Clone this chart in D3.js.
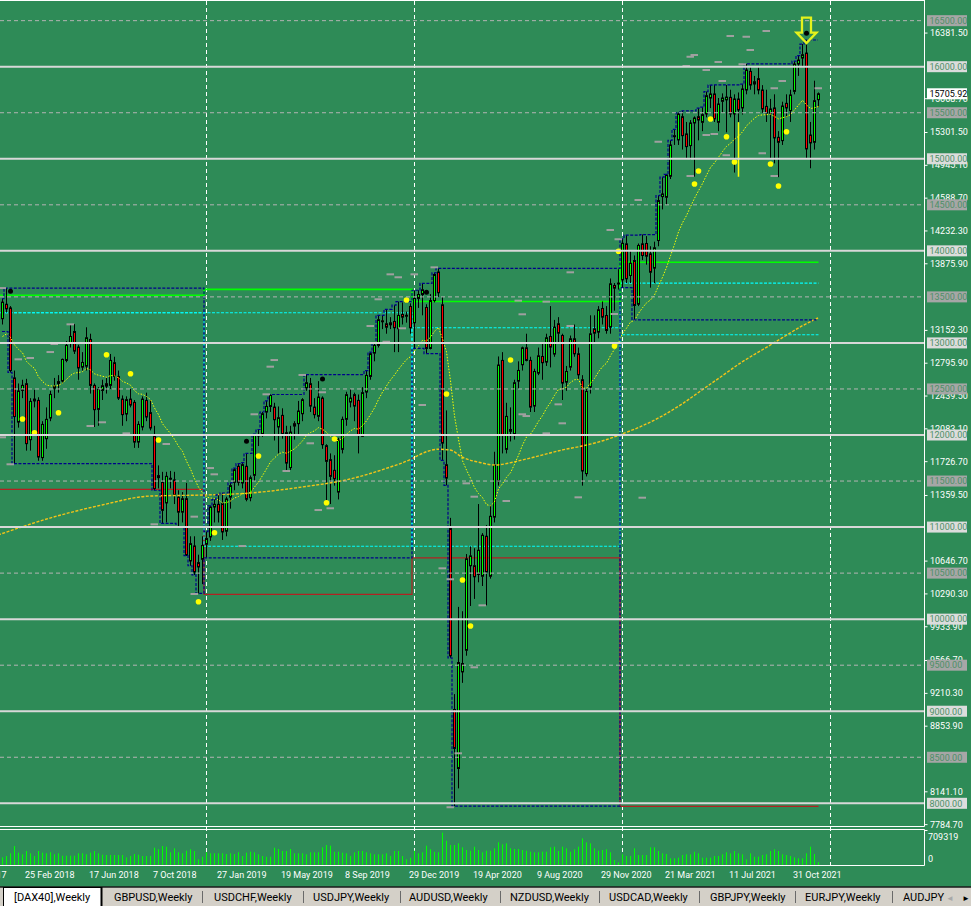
<!DOCTYPE html>
<html><head><meta charset="utf-8">
<script src="https://cdn.jsdelivr.net/npm/d3@7"></script>
<style>
html,body{margin:0;padding:0;background:#2E8B57;overflow:hidden}
svg{display:block}
text{font-family:Roboto,"Liberation Sans",sans-serif}
</style></head><body>
<svg id="c" width="971" height="906"></svg>
<script>
// ---------------- DATA ----------------
const firstBarDate = "2018-01-14";           // weekly bars (Sunday start)
// [open, high, low, close]
const ohlc = [
[13263,13480,13200,13443],[13420,13596,13330,13370],[13380,13400,12680,12700],[12620,12700,11690,12200],[12140,12560,12080,12478],
[12484,12600,12400,12539],[12557,12610,11830,11906],[11949,12400,11830,12365],[12370,12490,12300,12390],[12376,12410,11720,11761],
[11754,12150,11720,12115],[11960,12300,11850,12170],[12184,12480,12150,12441],[12510,12620,12400,12530],[12560,12650,12460,12580],
[12586,12830,12560,12821],[12810,13020,12790,12973],[12997,13200,12950,13070],[13124,13204,12880,12911],[12955,12980,12600,12728],
[12737,12900,12700,12788],[12748,13170,12700,13056],[13038,13100,12450,12539],[12539,12560,12087,12275],[12278,12520,12100,12495],
[12484,12600,12380,12535],[12557,12620,12450,12531],[12539,12880,12500,12810],[12785,12850,12590,12636],[12636,12700,12380,12401],
[12390,12430,12100,12221],[12228,12420,12150,12384],[12390,12500,12300,12325],[12354,12380,11860,11923],[11923,12150,11860,12115],
[12087,12420,12050,12390],[12376,12460,12150,12195],[12243,12380,12050,12076],[11985,12100,11400,11418],[11559,11670,11420,11537],
[11486,11600,11040,11182],[11262,11600,11050,11551],[11520,11610,11420,11530],[11512,11600,11250,11350],[11325,11400,11000,11162],
[11162,11380,11050,11308],[11308,11480,10690,10693],[10632,10900,10580,10820],[10795,10900,10480,10513],[10614,10700,10280,10567],
[10650,10900,10380,10800],[10813,10950,10665,10875],[10893,11230,10850,11218],[11218,11300,11050,11247],[11247,11350,11050,11163],
[11255,11370,10860,10947],[10955,11330,10900,11305],[11325,11480,11200,11450],[11486,11640,11400,11623],[11660,11690,11450,11486],
[11479,11700,11420,11678],[11660,11800,11280,11302],[11319,11560,11280,11536],[11562,12010,11500,11996],[11990,12060,11880,12000],
[12014,12250,11980,12231],[12249,12370,12180,12310],[12310,12440,12250,12430],[12303,12350,11940,12166],[12087,12310,11800,12188],
[12213,12290,11960,12014],[12025,12100,11620,11695],[11646,12100,11620,12032],[12123,12150,11950,12097],[12123,12370,12000,12260],
[12231,12400,12150,12383],[12514,12656,12480,12568],[12557,12620,12250,12314],[12303,12400,12180,12221],[12203,12585,12150,12412],
[12401,12420,11850,11895],[11884,11900,11290,11714],[11732,11800,11250,11551],[11616,11780,11450,11525],[11380,11970,11300,11947],
[11844,12200,11800,12170],[12170,12470,12100,12438],[12358,12500,12300,12401],[12438,12460,12150,12314],[12376,12440,11800,11996],
[11986,12520,11980,12460],[12466,12700,12400,12647],[12636,12900,12600,12883],[12889,13000,12800,12973],[12973,13300,12950,13252],
[13240,13300,13150,13230],[13208,13365,13100,13171],[13197,13280,13150,13219],[13233,13410,12900,13165],[13154,13448,12900,13298],
[13309,13440,13200,13280],[13290,13340,13220,13300],[13396,13430,13100,13165],[13219,13572,12940,13483],[13483,13572,13380,13526],
[13526,13647,13300,13577],[13385,13420,12883,12940],[12940,13530,12930,13460],[13460,13760,13440,13743],[13770,13810,13500,13545],
[13414,13500,11724,11912],[11677,12267,11453,11532],[10984,11100,9580,9601],[9019,9186,7970,8596],[8378,10133,8162,9529],
[9427,10086,9308,9518],[9662,10707,9603,10655],[10580,10790,10143,10687],[10580,10770,10220,10460],[10485,11250,10400,10748],
[10466,10935,10360,10911],[10900,11022,10150,10513],[10466,11240,10440,11117],[11108,11818,11050,11670],[11497,12853,11450,12760],
[12810,12900,11800,11996],[11844,12350,11800,12202],[12040,12300,11930,12060],[12007,12600,11950,12568],[12585,12800,12500,12701],
[12763,12960,12700,12947],[12947,13100,12800,12810],[12810,12850,12250,12303],[12314,12720,12250,12690],[12672,12950,12650,12860],
[12853,12990,12600,12785],[12792,13100,12750,13056],[13070,13400,12734,12955],[12879,13250,12850,13171],[13208,13280,13000,13106],
[13081,13100,12380,12564],[12574,12750,12480,12690],[12737,13080,12700,13045],[13045,13200,12850,12882],[12882,12950,12600,12654],
[12600,12650,11450,11609],[11580,12500,11550,12473],[12521,13300,12450,13099],[13153,13300,13000,13106],[13117,13400,13050,13360],
[13374,13450,13200,13280],[13298,13400,13100,13135],[13171,13700,13100,13642],[13624,13650,13350,13595],[13640,13800,13580,13650],
[13685,14131,13600,14082],[14076,14170,13650,13696],[13732,14000,13650,13866],[13895,13950,13250,13407],[13420,14080,13400,14059],
[14076,14177,13900,13949],[14080,14160,13850,13942],[13967,14050,13600,13768],[13812,14100,13650,14033],[14112,14600,14050,14546],
[14589,14800,14450,14618],[14582,14830,14500,14824],[14810,15200,14780,15150],[15240,15320,15150,15251],[15205,15500,15150,15487],
[15457,15520,15100,15251],[15270,15400,15000,15132],[15143,15420,14990,15389],[15389,15460,14806,15443],[15457,15550,15200,15421],
[15396,15560,15300,15479],[15487,15730,15450,15685],[15660,15800,15550,15704],[15704,15802,15400,15433],[15396,15660,15300,15595],
[15624,15710,15500,15660],[15640,15801,15287,15670],[15667,15750,15450,15487],[15487,15700,14850,15649],[15649,15720,15400,15530],
[15552,15810,15480,15758],[15747,16030,15700,15964],[15949,16000,15750,15801],[15812,15900,15700,15837],[15870,16000,15700,15747],
[15747,15800,15500,15541],[15569,15750,15400,15497],[15493,15650,15000,15541],[15552,15700,14950,15226],[15233,15300,14800,15179],
[15197,15620,15150,15573],[15602,15700,15450,15552],[15523,15750,15400,15693],[15732,16060,15700,16029],[16029,16120,15900,16072],
[16094,16246,16000,16130],[16148,16290,15000,15107],[15258,15400,14897,15172],[15179,15848,15100,15631],[15642,15720,15560,15705.92]
];
// weekly volume, thousands
const volumesK = [
160,188,244,396,257,223,292,244,188,292, 257,244,265,223,244,194,194,194,194,244,
244,223,257,292,244,215,209,209,209,209, 209,160,188,229,215,188,188,188,361,328,
396,382,265,348,265,244,298,328,292,119, 173,265,244,244,244,244,229,244,229,265,
188,257,277,265,223,188,173,173,361,334, 292,292,334,244,244,244,223,265,265,265,
369,417,403,277,277,257,244,188,265,292, 292,265,244,223,223,223,244,188,292,292,
188,119,152,298,244,265,403,328,277,265, 674,507,417,417,453,369,313,298,382,313,
265,298,298,348,473,431,452,348,334,334, 313,298,278,265,265,278,278,369,383,292,
383,348,278,327,383,556,473,452,348,298, 313,327,265,104,56,223,188,188,348,209,
209,209,369,369,292,243,229,139,139,153, 209,223,223,278,243,153,153,153,188,188,
223,265,243,292,243,223,118,243,174,174, 209,223,292,327,292,223,209,188,160,139,
139,243,383,229,60
];
const volumeMaxLabel = 709319;
const currentPrice = 15705.92;
const fastEmaPeriod = 20, fastEmaSeed = 13030;
// slow moving average: [bar, price]
const slowMa = [[-1,10914],[12,11098],[25,11240],[37,11337],[50,11348],[62,11370],[75,11435],[87,11522],[100,11696],[109,11845],[112,11837],[115,11761],[120,11696],[123,11674],[130,11728],[135,11782],[140,11837],[145,11880],[150,11935],[155,12011],[160,12098],[165,12206],[170,12337],[175,12489],[180,12641],[185,12793],[190,12923],[195,13054],[200,13184],[204,13271]];
const ytdSeed = {high:13124, low:13124};
// yearly reference levels
const levelYears = [2018, 2019, 2020, 2021];
const prevYearHigh = [13518, 13582, 13450, 13877];
const prevYearLow = [11410, 10270, 10665, 7967];
const prevYearOpen = [13327, 13327, 10792, 13088];
const prevYearClose = [13327, 10792, 13165, 13649];
// markers [bar, price]
const yellowDots = [[5,12174],[8,12025],[14,12242],[26,12872],[32,12666],[39,11946],[49,10189],[53,10939],[64,11772],[81,11265],[83,11956],[101,13466],[111,12445],[115,10425],[117,9925],[127,12814],[153,12966],[154,13995],[173,14726],[174,14867],[177,15432],[181,15240],[183,14965],[192,14943],[194,14704],[196,15294]];
const blackDots = [[2,13561],[61,11931],[80,12608],[106,13550],[201,16363]];
const grayDashes = [[17,13202],[13,12988],[12,12901],[4,12822],[7,12836],[22,12098],[25,12138],[31,12018],[41,11902],[2,11682],[0,13596],[0,11975],[52,11641],[63,12225],[53,11573],[48,11113],[38,11030],[48,10273],[60,10794],[97,13745],[99,13713],[94,13474],[92,13184],[96,13013],[100,13159],[68,12814],[67,12742],[75,12652],[66,12442],[80,12464],[77,11910],[71,11609],[79,11185],[82,11204],[103,13745],[108,13821],[142,13767],[129,13459],[136,13448],[142,13184],[153,13314],[130,13311],[105,12326],[139,12333],[140,12127],[130,12225],[131,12206],[136,12018],[116,11475],[118,11330],[126,11283],[144,11323],[160,11319],[110,10552],[112,10433],[120,10150],[118,9477],[114,8543],[112,7956],[164,15185],[159,14552],[152,14226],[154,14125],[172,14813],[178,15269],[182,16333],[186,16326],[191,16388],[187,16181],[172,16109],[173,16127],[179,16051],[171,16008],[176,15964],[185,16026],[180,15845],[195,15845],[193,15765],[204,15765],[181,15038],[190,15059],[193,14813],[176,15258]];
const signalLines = [[184,15396,14805]];
const arrowSignal = {bar:201, price:16257};
const priceTicks = [16381.5,15668.7,15301.5,14945.1,14588.7,14232.3,13875.9,13152.3,12795.9,12439.5,12083.1,11726.7,11359.5,10646.7,10290.3,9933.9,9566.7,9210.3,8853.9,8141.1,7784.7];
const roundLevels = [16500,16000,15500,15000,14500,14000,13500,13000,12500,12000,11500,11000,10500,10000,9500,9000,8500,8000];
const timeLabelBars = d3.range(-10, 205, 16);
const tabs = ["[DAX40],Weekly","GBPUSD,Weekly","USDCHF,Weekly","USDJPY,Weekly","AUDUSD,Weekly","NZDUSD,Weekly","USDCAD,Weekly","GBPJPY,Weekly","EURJPY,Weekly","AUDJPY"];
const tabTextX = [14,114,214,313,409,510,609,710,805,903];
const tabSepX = [202,303,400,500,599,699,795,892];

// ---------------- SCALES ----------------
const N = ohlc.length;
const t0 = Date.parse(firstBarDate + "T00:00:00Z");
const barDate = i => new Date(t0 + i*7*864e5);
const x = d3.scaleLinear().domain([0, N-1]).range([2, 2 + 4*(N-1)]);
const y = d3.scaleLinear().domain([8000, 16000]).range([803.3, 66.7]);
const yv = d3.scaleLinear().domain([0, volumeMaxLabel/1000]).range([865, 831]);
const fmtDate = d3.utcFormat("%-d %b %Y");

const svg = d3.select("#c");
svg.append("rect").attr("width",971).attr("height",906).attr("fill","#2E8B57");
const defs = svg.append("defs");
defs.append("clipPath").attr("id","cm").append("rect").attr("x",0).attr("y",1).attr("width",924).attr("height",825.5);
defs.append("clipPath").attr("id","cv").append("rect").attr("x",0).attr("y",830).attr("width",924).attr("height",35);

// year separators
const seps = d3.range(-10, 215).filter(i => barDate(i).getUTCFullYear() !== barDate(i-1).getUTCFullYear());
svg.append("g").selectAll("line").data(seps).join("line")
  .attr("x1", i=>x(i)+0.5).attr("x2", i=>x(i)+0.5).attr("y1",1).attr("y2",865)
  .attr("stroke","#fff").attr("stroke-width",1).attr("stroke-dasharray","4,3");

const main = svg.append("g").attr("clip-path","url(#cm)");

// yearly reference level lines
const yearFirst = levelYears.map(Y => d3.range(-60, N).find(i => barDate(i).getUTCFullYear() === Y));
function yearPts(vals){
  const pts = [];
  vals.forEach((v,k)=>{
    const xs = x(yearFirst[k]) - 2;
    const xe = k < vals.length-1 ? x(yearFirst[k+1]) - 2 : x(N-1) + 0.5;
    pts.push([xs, y(v)], [xe, y(v)]);
  });
  return pts;
}
const lineXY = d3.line();
main.append("path").attr("d", lineXY(yearPts(prevYearLow))).attr("fill","none").attr("stroke","#B22222").attr("stroke-width",1.2);
main.append("path").attr("d", lineXY(yearPts(prevYearOpen))).attr("fill","none").attr("stroke","#00FFFF").attr("stroke-width",1.1).attr("stroke-dasharray","3,1.5");
main.append("path").attr("d", lineXY(yearPts(prevYearClose))).attr("fill","none").attr("stroke","#00FFFF").attr("stroke-width",1.1).attr("stroke-dasharray","3,1.5");
main.append("path").attr("d", lineXY(yearPts(prevYearHigh))).attr("fill","none").attr("stroke","#00FF00").attr("stroke-width",1.6);

// candles
const cg = main.append("g");
cg.selectAll("line").data(ohlc).join("line")
  .attr("x1",(d,i)=>x(i)+0.5).attr("x2",(d,i)=>x(i)+0.5)
  .attr("y1",d=>y(d[1])).attr("y2",d=>y(d[2])).attr("stroke","#000").attr("stroke-width",1);
cg.selectAll("rect").data(ohlc).join("rect")
  .attr("x",(d,i)=>x(i)-0.5).attr("width",2)
  .attr("y",d=>y(Math.max(d[0],d[3]))).attr("height",d=>Math.abs(y(d[0])-y(d[3])))
  .attr("fill",d=>d[3]>=d[0]?"#00FF00":"#FF0000").attr("stroke","#000").attr("stroke-width",1);

// signal lines
main.selectAll(".sig").data(signalLines).join("line")
  .attr("x1",d=>x(d[0])+0.5).attr("x2",d=>x(d[0])+0.5).attr("y1",d=>y(d[1])).attr("y2",d=>y(d[2]))
  .attr("stroke","#FFFF00").attr("stroke-width",1.5);

// slow MA
main.append("path").datum(slowMa)
  .attr("d", d3.line().curve(d3.curveMonotoneX).x(d=>x(d[0])).y(d=>y(d[1])))
  .attr("fill","none").attr("stroke","#F2C318").attr("stroke-width",1.4).attr("stroke-dasharray","3,1.5");

// fast EMA
const kf = 2/(fastEmaPeriod+1); let e = fastEmaSeed;
const fast = ohlc.map((d,i)=>{ e = e + kf*(d[3]-e); return [i,e]; });
main.append("path").datum(fast)
  .attr("d", d3.line().x(d=>x(d[0])+0.5).y(d=>y(d[1])))
  .attr("fill","none").attr("stroke","#FFFF00").attr("stroke-width",1).attr("stroke-dasharray","1.5,1.5");

// year-to-date high / low step lines
let yr=null, hi, lo;
const ytd = ohlc.map((d,i)=>{
  const Y = barDate(i).getUTCFullYear();
  if (Y !== yr){ yr = Y; hi = i===0 ? Math.max(ytdSeed.high,d[1]) : d[1]; lo = i===0 ? Math.min(ytdSeed.low,d[2]) : d[2]; }
  else { hi = Math.max(hi,d[1]); lo = Math.min(lo,d[2]); }
  return [i,hi,lo];
});
const stepLine = key => d3.line().curve(d3.curveStep).x(d=>x(d[0])).y(d=>y(d[key]));
main.append("path").datum(ytd).attr("d", stepLine(1)).attr("fill","none").attr("stroke","#00008B").attr("stroke-width",1.2).attr("stroke-dasharray","3,1.5");
main.append("path").datum(ytd).attr("d", stepLine(2)).attr("fill","none").attr("stroke","#00008B").attr("stroke-width",1.2).attr("stroke-dasharray","3,1.5");

// gray dashes
main.append("g").selectAll("line").data(grayDashes).join("line")
  .attr("x1",d=>x(d[0])-3.5).attr("x2",d=>x(d[0])+4).attr("y1",d=>y(d[1])).attr("y2",d=>y(d[1]))
  .attr("stroke","#A0A0A0").attr("stroke-width",2);

// dots
main.append("g").selectAll("circle").data(yellowDots).join("circle")
  .attr("cx",d=>x(d[0])+0.5).attr("cy",d=>y(d[1])).attr("r",2.8).attr("fill","#FFFF00");
main.append("g").selectAll("circle").data(blackDots).join("circle")
  .attr("cx",d=>x(d[0])+0.5).attr("cy",d=>y(d[1])).attr("r",2.5).attr("fill","#000");

// round level lines
main.append("g").selectAll("line").data(roundLevels).join("line")
  .attr("x1",0).attr("x2",924).attr("y1",d=>y(d)).attr("y2",d=>y(d))
  .attr("stroke",d=>d%1000===0?"#D8D8D8":"#B4B4B4")
  .attr("stroke-width",d=>d%1000===0?2:1)
  .attr("stroke-dasharray",d=>d%1000===0?null:"4,3");

// arrow signal
{
  const cx = x(arrowSignal.bar)+0.5, tip = y(arrowSignal.price), top = tip-25.5, hb = tip-10.5;
  const pts = [[cx-4.5,top],[cx+4.5,top],[cx+4.5,hb],[cx+10,hb],[cx,tip],[cx-10,hb],[cx-4.5,hb]];
  main.append("path").attr("d", d3.line()(pts)+"Z").attr("fill","none").attr("stroke","#E4F21C").attr("stroke-width",2.3).attr("stroke-linejoin","miter");
}

// volume
const vg = svg.append("g").attr("clip-path","url(#cv)");
vg.selectAll("line").data(volumesK).join("line")
  .attr("x1",(d,i)=>x(i)+0.5).attr("x2",(d,i)=>x(i)+0.5).attr("y1",yv(0)).attr("y2",d=>yv(d))
  .attr("stroke","#00FF00").attr("stroke-width",1);

// frames
const fr = svg.append("g").attr("stroke","#fff").attr("stroke-width",1).attr("fill","none");
fr.append("line").attr("x1",0).attr("x2",924.5).attr("y1",0.5).attr("y2",0.5);
fr.append("line").attr("x1",0).attr("x2",924.5).attr("y1",826.5).attr("y2",826.5);
fr.append("line").attr("x1",0).attr("x2",924.5).attr("y1",829.5).attr("y2",829.5);
fr.append("line").attr("x1",0).attr("x2",924.5).attr("y1",865.5).attr("y2",865.5);
fr.append("line").attr("x1",924.5).attr("x2",924.5).attr("y1",0).attr("y2",826.5);
fr.append("line").attr("x1",924.5).attr("x2",924.5).attr("y1",829.5).attr("y2",865.5);

// price axis
const ax = svg.append("g").attr("transform","translate(924.5,1)")
  .call(d3.axisRight(y).tickValues(priceTicks).tickSize(3).tickPadding(2.5).tickFormat(d=>d.toFixed(2)));
ax.select(".domain").remove();
ax.selectAll("line").attr("stroke","#fff");
ax.selectAll("text").attr("fill","#fff").style("font-size","9px").style("font-family","Roboto");

// round level price boxes
const lb = svg.append("g");
lb.selectAll("rect").data(roundLevels).join("rect")
  .attr("x",927).attr("width",40).attr("y",d=>y(d)-5.5).attr("height",11)
  .attr("fill",d=>d%1000===0?"#DCDCDC":"#A6A6A6");
lb.selectAll("text").data(roundLevels).join("text")
  .attr("x",929.5).attr("y",d=>y(d)+3.3).text(d=>d.toFixed(2))
  .attr("fill","#4E9068").style("font-size","9px");
svg.append("rect").attr("x",927).attr("width",40).attr("y",y(currentPrice)-5.5).attr("height",11).attr("fill","#fff");
svg.append("text").attr("x",929.5).attr("y",y(currentPrice)+3.3).text(currentPrice.toFixed(2)).attr("fill","#000").style("font-size","9px");

// volume labels
svg.append("line").attr("x1",924.5).attr("x2",927.5).attr("y1",830.5).attr("y2",830.5).attr("stroke","#fff");
svg.append("text").attr("x",928).attr("y",840).text(String(volumeMaxLabel)).attr("fill","#fff").style("font-size","9px");
svg.append("text").attr("x",928).attr("y",861.5).text("0").attr("fill","#fff").style("font-size","9px");

// time labels
svg.append("g").selectAll("text").data(timeLabelBars).join("text")
  .attr("x",i=>x(i)-1).attr("y",877.5).text(i=>fmtDate(barDate(i)))
  .attr("fill","#fff").style("font-size","9px");

// tab bar
const tb = svg.append("g");
tb.append("rect").attr("x",0).attr("y",887).attr("width",971).attr("height",19).attr("fill","#D4D0C8");
tb.append("line").attr("x1",0).attr("x2",971).attr("y1",887).attr("y2",887).attr("stroke","#1a1a1a").attr("stroke-width",1.6);
tb.append("rect").attr("x",3.5).attr("y",887.5).attr("width",98).attr("height",19).attr("fill","#fff").attr("stroke","#000").attr("stroke-width",1);
tb.append("line").attr("x1",101.5).attr("x2",101.5).attr("y1",887).attr("y2",906).attr("stroke","#000").attr("stroke-width",2);
tb.selectAll(".sep").data(tabSepX).join("line").attr("class","sep")
  .attr("x1",d=>d+0.5).attr("x2",d=>d+0.5).attr("y1",891).attr("y2",903).attr("stroke","#6a6a6a");
tb.append("g").selectAll("text").data(tabs).join("text")
  .attr("x",(d,i)=>tabTextX[i]).attr("y",901).text(d=>d).attr("fill","#000").style("font-size","11px");
tb.append("text").attr("x",946).attr("y",900.5).text("◄").attr("fill","#A8A8A8").style("font-size","8px");
tb.append("text").attr("x",962).attr("y",900.5).text("►").attr("fill","#000").style("font-size","8px");
</script>
</body></html>
